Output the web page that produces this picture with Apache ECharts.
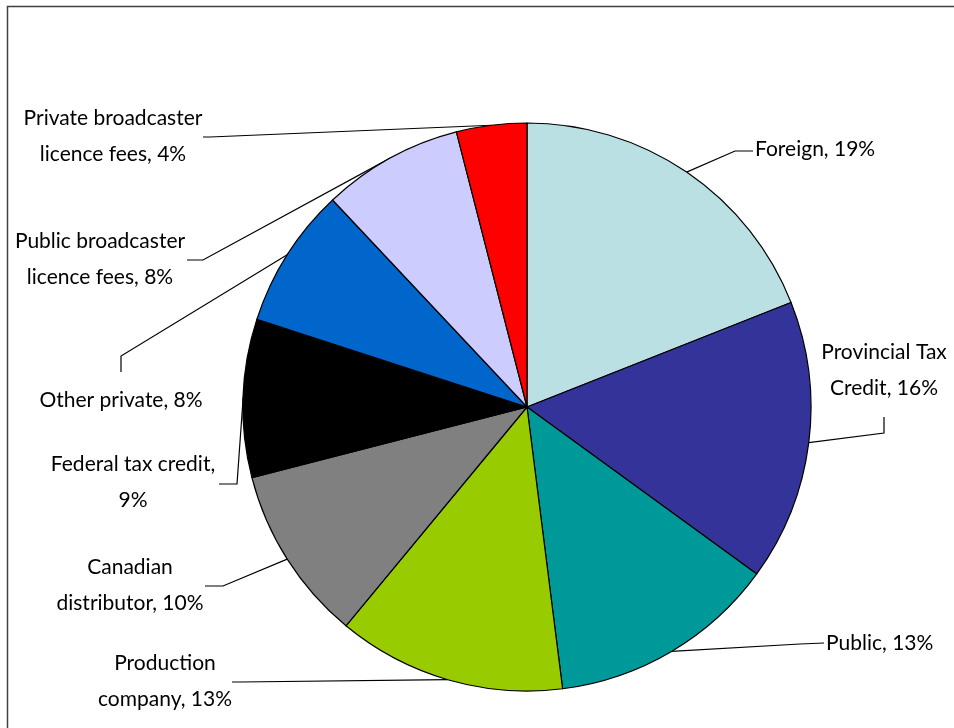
<!DOCTYPE html>
<html lang="en">
<head>
<meta charset="UTF-8">
<title>Financing sources pie</title>
<script src="https://cdn.jsdelivr.net/npm/echarts@6/dist/echarts.min.js"></script>
<style>
    html, body { margin: 0; padding: 0; background: #fff; }
    #chart { width: 954px; height: 728px; }
</style>
</head>
<body>

<div id="chart"></div>

<script>
// slices, clockwise from 12 o'clock
var categories = ['Foreign', 'Provincial Tax\nCredit', 'Public', 'Production\ncompany', 'Canadian\ndistributor',
    'Federal tax credit', 'Other private', 'Public broadcaster\nlicence fees', 'Private broadcaster\nlicence fees'];
var shares = [19, 16, 13, 13, 10, 9, 8, 8, 4];
var colors = ['#BAE0E3', '#333399', '#009999', '#99CC00', '#808080', '#000000', '#0066CC', '#CCCCFF', '#FF0000'];

// where each label sits and the bend of its leader line
var labelSpots = [
    { x: 755, y: 149, align: 'left', line: [[735, 151], [753, 151]] },
    { x: 884, y: 370, align: 'center', line: [[884, 433], [884, 417]] },
    { x: 826, y: 643, align: 'left', line: [[800, 644], [824, 643]] },
    { x: 165, y: 681, align: 'center', line: [[240, 682], [232, 682]] },
    { x: 130, y: 585, align: 'center', line: [[223, 586], [205, 586]] },
    { x: 133, y: 482, align: 'center', line: [[237, 484], [219, 484]] },
    { x: 121, y: 400, align: 'center', line: [[121, 356], [121, 372]] },
    { x: 100, y: 259, align: 'center', line: [[203, 260], [187, 260]] },
    { x: 113, y: 136, align: 'center', line: [[210, 137], [203, 137]] }
];

var chartDom = document.getElementById('chart');
var myChart = echarts.init(chartDom);

var pieData = categories.map(function (name, i) {
    var item = { name: name, value: shares[i], itemStyle: { color: colors[i] } };
    if (i === 5) {
        item.label = { formatter: '{b},\n{c}%' };
    }
    return item;
});

var option = {
    animation: false,
    graphic: [{
        type: 'rect',
        shape: { x: 7.5, y: 6.5, width: 2000, height: 2000 },
        style: { fill: 'none', stroke: '#404040', lineWidth: 1.5 },
        silent: true
    }],
    series: [{
        type: 'pie',
        center: [527, 407],
        radius: 284,
        startAngle: 90,
        clockwise: true,
        avoidLabelOverlap: false,
        itemStyle: { borderColor: '#000', borderWidth: 1.2 },
        label: {
            show: true,
            position: 'outside',
            formatter: '{b}, {c}%',
            color: '#000',
            fontFamily: 'Lato',
            fontSize: 21,
            lineHeight: 36
        },
        labelLine: {
            show: true,
            length: 20,
            length2: 20,
            lineStyle: { color: '#000', width: 1.2 }
        },
        labelLayout: function (params) {
            var s = labelSpots[params.dataIndex];
            var p = params.labelLinePoints;
            var out = { x: s.x, y: s.y, align: s.align, verticalAlign: 'middle' };
            if (p) {
                out.labelLinePoints = [p[0], s.line[0], s.line[1]];
            }
            return out;
        },
        emphasis: { disabled: true },
        data: pieData
    }]
};

myChart.setOption(option);
</script>

</body>
</html>
